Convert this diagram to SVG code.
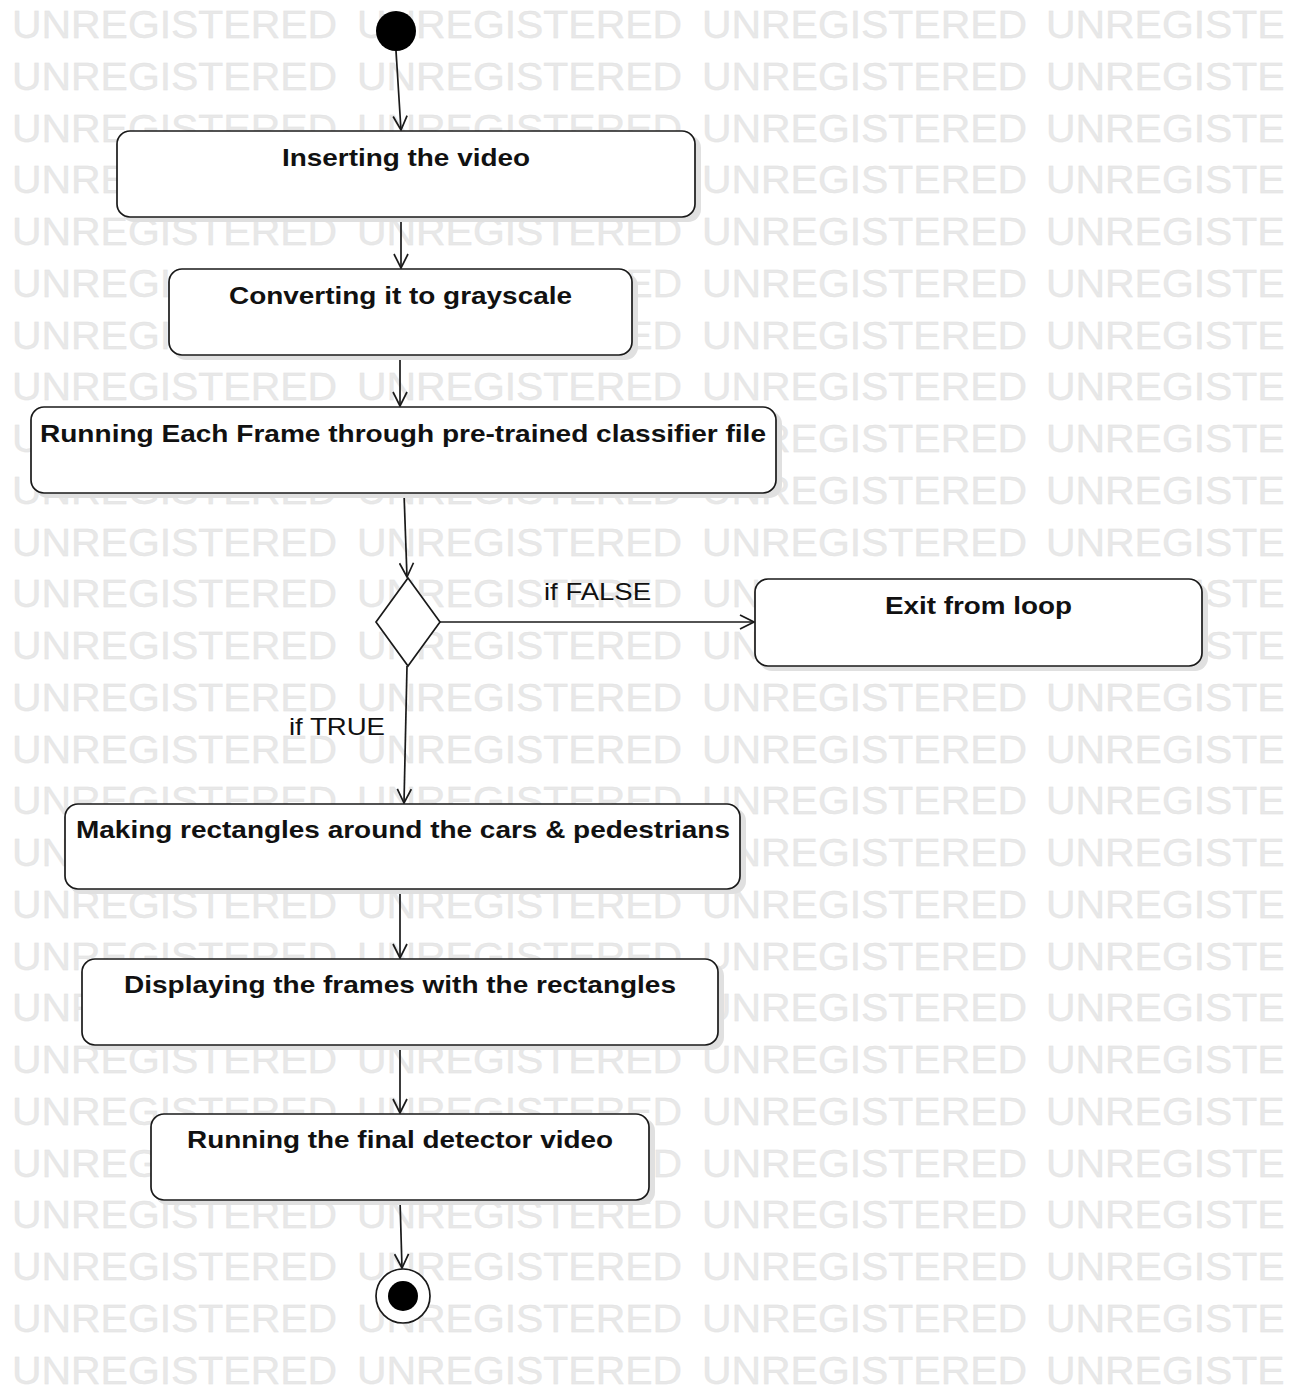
<svg xmlns="http://www.w3.org/2000/svg" xmlns:xlink="http://www.w3.org/1999/xlink" width="1296" height="1389" viewBox="0 0 1296 1389">
<style>
.wm{font-family:"Liberation Sans",Arial,sans-serif;font-size:38px;fill:#e8e8e8;stroke:#e2e2e2;stroke-width:0.3}
.box{fill:#ffffff;stroke:#1a1a1a;stroke-width:1.7}
.shadow{fill:#e0e0e0;stroke:none}
.lbl{font-family:"Liberation Sans",Arial,sans-serif;font-size:24px;font-weight:bold;fill:#111;text-anchor:start}
.guard{font-family:"Liberation Sans",Arial,sans-serif;font-size:24px;fill:#111}
.edge{fill:none;stroke:#1a1a1a;stroke-width:1.7}
</style>
<defs>
<clipPath id="clipw"><rect x="0" y="0" width="1287" height="1389"/></clipPath>
<g id="wmrow">
<text class="wm" x="12" y="0" textLength="325" lengthAdjust="spacingAndGlyphs">UNREGISTERED</text>
<text class="wm" x="357" y="0" textLength="325" lengthAdjust="spacingAndGlyphs">UNREGISTERED</text>
<text class="wm" x="702" y="0" textLength="325" lengthAdjust="spacingAndGlyphs">UNREGISTERED</text>
<text class="wm" x="1046" y="0" textLength="325" lengthAdjust="spacingAndGlyphs">UNREGISTERED</text>
</g>
<marker id="arr" markerUnits="userSpaceOnUse" viewBox="0 0 16 16" markerWidth="16" markerHeight="16" refX="15" refY="8" orient="auto">
<path d="M1,1 L15,8 L1,15" fill="none" stroke="#1a1a1a" stroke-width="1.7"/>
</marker>
</defs>
<rect width="1296" height="1389" fill="#ffffff"/>
<g id="watermark" clip-path="url(#clipw)">
<use xlink:href="#wmrow" y="38"/><use xlink:href="#wmrow" y="89.75"/><use xlink:href="#wmrow" y="141.5"/><use xlink:href="#wmrow" y="193.25"/><use xlink:href="#wmrow" y="245"/><use xlink:href="#wmrow" y="296.75"/><use xlink:href="#wmrow" y="348.5"/><use xlink:href="#wmrow" y="400.25"/><use xlink:href="#wmrow" y="452"/><use xlink:href="#wmrow" y="503.75"/><use xlink:href="#wmrow" y="555.5"/><use xlink:href="#wmrow" y="607.25"/><use xlink:href="#wmrow" y="659"/><use xlink:href="#wmrow" y="710.75"/><use xlink:href="#wmrow" y="762.5"/><use xlink:href="#wmrow" y="814.25"/><use xlink:href="#wmrow" y="866"/><use xlink:href="#wmrow" y="917.75"/><use xlink:href="#wmrow" y="969.5"/><use xlink:href="#wmrow" y="1021.25"/><use xlink:href="#wmrow" y="1073"/><use xlink:href="#wmrow" y="1124.75"/><use xlink:href="#wmrow" y="1176.5"/><use xlink:href="#wmrow" y="1228.25"/><use xlink:href="#wmrow" y="1280"/><use xlink:href="#wmrow" y="1331.75"/><use xlink:href="#wmrow" y="1383.5"/>
</g>
<g id="connectors">
<path class="edge" d="M396,51 L401,130" marker-end="url(#arr)"/>
<path class="edge" d="M401,217 L401,268" marker-end="url(#arr)"/>
<path class="edge" d="M400,355 L400,406" marker-end="url(#arr)"/>
<path class="edge" d="M404,493 L407,577" marker-end="url(#arr)"/>
<path class="edge" d="M440,622 L754,622" marker-end="url(#arr)"/>
<path class="edge" d="M407,666 L404,803" marker-end="url(#arr)"/>
<path class="edge" d="M400,889 L400,958" marker-end="url(#arr)"/>
<path class="edge" d="M400,1045 L400,1113" marker-end="url(#arr)"/>
<path class="edge" d="M400,1200 L402,1268" marker-end="url(#arr)"/>
<text class="guard" x="544" y="600" textLength="107" lengthAdjust="spacingAndGlyphs">if FALSE</text>
<text class="guard" x="289" y="735" textLength="96" lengthAdjust="spacingAndGlyphs">if TRUE</text>
</g>
<g id="start"><circle cx="396" cy="31" r="20" fill="#000"/></g>
<g id="n1">
<rect class="shadow" x="121" y="135" width="580" height="87" rx="13"/>
<rect class="box" x="117" y="131" width="578" height="86" rx="13"/>
<text class="lbl" x="282" y="166" textLength="248" lengthAdjust="spacingAndGlyphs">Inserting the video</text>
</g>
<g id="n2">
<rect class="shadow" x="173" y="273" width="465" height="87" rx="13"/>
<rect class="box" x="169" y="269" width="463" height="86" rx="13"/>
<text class="lbl" x="229" y="304" textLength="343" lengthAdjust="spacingAndGlyphs">Converting it to grayscale</text>
</g>
<g id="n3">
<rect class="shadow" x="35" y="411" width="747" height="87" rx="13"/>
<rect class="box" x="31" y="407" width="745" height="86" rx="13"/>
<text class="lbl" x="40" y="442" textLength="726" lengthAdjust="spacingAndGlyphs">Running Each Frame through pre-trained classifier file</text>
</g>
<g id="decision">
<polygon points="408,578 440,622 408,666 376,622" fill="#ffffff" stroke="#1a1a1a" stroke-width="1.7"/>
</g>
<g id="n4">
<rect class="shadow" x="759" y="583" width="449" height="88" rx="13"/>
<rect class="box" x="755" y="579" width="447" height="87" rx="13"/>
<text class="lbl" x="885" y="614" textLength="187" lengthAdjust="spacingAndGlyphs">Exit from loop</text>
</g>
<g id="n5">
<rect class="shadow" x="69" y="808" width="677" height="86" rx="13"/>
<rect class="box" x="65" y="804" width="675" height="85" rx="13"/>
<text class="lbl" x="76" y="838" textLength="654" lengthAdjust="spacingAndGlyphs">Making rectangles around the cars &amp; pedestrians</text>
</g>
<g id="n6">
<rect class="shadow" x="86" y="963" width="638" height="87" rx="13"/>
<rect class="box" x="82" y="959" width="636" height="86" rx="13"/>
<text class="lbl" x="124" y="993" textLength="552" lengthAdjust="spacingAndGlyphs">Displaying the frames with the rectangles</text>
</g>
<g id="n7">
<rect class="shadow" x="155" y="1118" width="500" height="87" rx="13"/>
<rect class="box" x="151" y="1114" width="498" height="86" rx="13"/>
<text class="lbl" x="187" y="1148" textLength="426" lengthAdjust="spacingAndGlyphs">Running the final detector video</text>
</g>
<g id="end">
<circle cx="403" cy="1296" r="27" fill="#ffffff" stroke="#1a1a1a" stroke-width="1.7"/>
<circle cx="403" cy="1296" r="15" fill="#000"/>
</g>
</svg>
